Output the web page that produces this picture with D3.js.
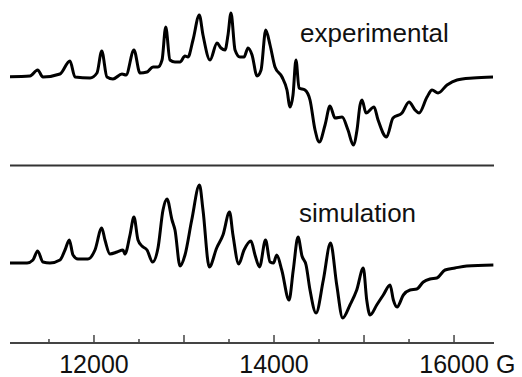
<!DOCTYPE html>
<html>
<head>
<meta charset="utf-8">
<script src="https://cdn.jsdelivr.net/npm/d3@7"></script>
<style>
  body { margin: 0; background: #fff; }
  svg { display: block; font-family: 'Liberation Sans', Arial, sans-serif; }
</style>
</head>
<body>
<svg class="epr" width="522" height="377"></svg>
<script>
// magnetic field (G) and signal (a.u.)
const experimentalField = [11067, 11289, 11374, 11433, 11622, 11733, 11789, 11956, 12033, 12086,
  12144, 12211, 12311, 12356, 12444, 12511, 12589, 12656, 12711, 12756, 12797, 12844, 12900,
  12956, 13011, 13044, 13100, 13170, 13211, 13289, 13367, 13411, 13456, 13489, 13522, 13567,
  13622, 13667, 13711, 13756, 13811, 13856, 13908, 13956, 14011, 14089, 14144, 14178, 14211,
  14244, 14278, 14344, 14400, 14456, 14503, 14567, 14622, 14678, 14756, 14822, 14881, 14922,
  14956, 14978, 15022, 15111, 15156, 15250, 15322, 15422, 15500, 15567, 15611, 15700, 15756,
  15822, 15922, 16033, 16211, 16433];
const experimentalSignal = [0.3, 1, 7, 0, 3, 16, 0, -1, 4, 26,
  0, -2, 3, 2, 27, 4, 5, 10, 10, 17, 50, 17, 15,
  15, 21, 20, 37, 62, 42, 17, 34, 29, 27, 42, 64, 27,
  20, 20, 29, 22, 1, 7, 47, 32, 10, 0, -13, -30, -18,
  17, -11, -13, -23, -53, -65, -48, -29, -41, -40, -53, -68, -53,
  -28, -23, -36, -30, -43, -60, -41, -36, -25, -33, -36, -20, -13,
  -16, -8, -3, -1, 0];

const simulationField = [11067, 11256, 11322, 11374, 11433, 11511, 11622, 11678, 11726, 11767,
  11822, 11933, 12011, 12086, 12122, 12178, 12256, 12322, 12344, 12400, 12444, 12489, 12533,
  12589, 12652, 12711, 12767, 12811, 12867, 12900, 12956, 13011, 13086, 13172, 13211, 13281,
  13363, 13433, 13506, 13544, 13608, 13667, 13744, 13789, 13839, 13906, 13956, 13994, 14030,
  14086, 14167, 14214, 14267, 14311, 14356, 14400, 14467, 14548, 14628, 14697, 14763, 14844,
  14919, 14992, 15030, 15067, 15141, 15214, 15289, 15326, 15367, 15437, 15511, 15586, 15659,
  15733, 15808, 15900, 16011, 16141, 16437];
const simulationSignal = [0, 0, 3, 12, 1, 0, 3, 13, 23, 8,
  4, 4, 13, 35, 23, 9, 11, 13, 9, 28, 46, 23, 17,
  13, 1, 15, 53, 64, 43, 33, -3, 8, 43, 78, 53, -4,
  15, 28, 51, 28, -1, 13, 22, 8, -4, 23, 1, 0, 8,
  -7, -37, -7, 26, 7, -2, -27, -50, -17, 20, -22, -55, -42,
  -27, -5, -37, -52, -42, -32, -22, -37, -44, -32, -27, -26, -19,
  -16, -15, -7, -5, -3, -2];

const majorTicks = [12000, 13000, 14000, 15000, 16000];
const minorTicks = [11500, 12500, 13500, 14500, 15500];
const tickLabels = [12000, 14000, 16000];

const svg = d3.select('.epr');
const x = d3.scaleLinear().domain([11067, 16444]).range([10, 494]);
// one unit of signal is one pixel; each panel has its own baseline
const yTop = d3.scaleLinear().domain([0, 1]).range([77, 76]);
const yBottom = d3.scaleLinear().domain([0, 1]).range([263, 262]);

function drawTrace(field, signal, y) {
  const pts = field.map((f, i) => [f, signal[i]]);
  const line = d3.line()
    .x(d => x(d[0]))
    .y(d => y(d[1]))
    .curve(d3.curveMonotoneX);
  svg.append('path')
    .datum(pts)
    .attr('fill', 'none')
    .attr('stroke', '#000')
    .attr('stroke-width', 3)
    .attr('stroke-linejoin', 'round')
    .attr('d', line);
}

drawTrace(experimentalField, experimentalSignal, yTop);
drawTrace(simulationField, simulationSignal, yBottom);

// separator between the panels
svg.append('line')
  .attr('x1', x.range()[0]).attr('x2', x.range()[1])
  .attr('y1', 165.5).attr('y2', 165.5)
  .attr('stroke', '#333')
  .attr('stroke-width', 2);

// field axis, ticks pointing up
const axisY = 343;
const axis = svg.append('g').attr('transform', `translate(0, ${axisY})`);
axis.append('line')
  .attr('x1', x.range()[0]).attr('x2', x.range()[1])
  .attr('stroke', '#444')
  .attr('stroke-width', 2);
axis.selectAll('.major')
  .data(majorTicks)
  .enter()
  .append('line')
  .attr('class', 'major')
  .attr('x1', d => x(d)).attr('x2', d => x(d))
  .attr('y1', 0).attr('y2', -8)
  .attr('stroke', '#444')
  .attr('stroke-width', 1.5);
axis.selectAll('.minor')
  .data(minorTicks)
  .enter()
  .append('line')
  .attr('class', 'minor')
  .attr('x1', d => x(d)).attr('x2', d => x(d))
  .attr('y1', 0).attr('y2', -4)
  .attr('stroke', '#444')
  .attr('stroke-width', 1.5);
axis.selectAll('text')
  .data(tickLabels)
  .enter()
  .append('text')
  .attr('x', d => x(d))
  .attr('y', 30)
  .attr('text-anchor', 'middle')
  .attr('font-size', 25)
  .attr('fill', '#111')
  .text(d => d);
axis.append('text')
  .attr('x', 496)
  .attr('y', 30)
  .attr('font-size', 25)
  .attr('fill', '#111')
  .text('G');

svg.append('text')
  .attr('x', 300).attr('y', 42)
  .attr('font-size', 26)
  .attr('fill', '#111')
  .text('experimental');
svg.append('text')
  .attr('x', 299).attr('y', 222)
  .attr('font-size', 26)
  .attr('fill', '#111')
  .text('simulation');
</script>
</body>
</html>
